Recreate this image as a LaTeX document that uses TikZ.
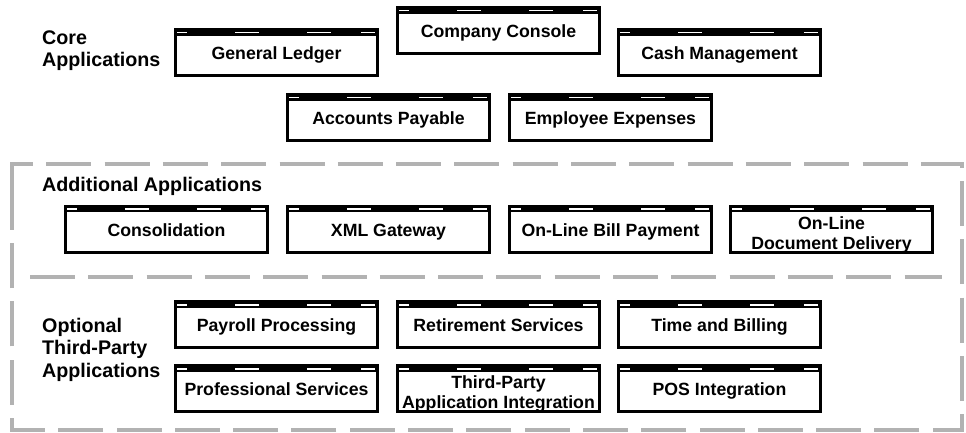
\documentclass[tikz,border=0pt]{standalone}
\usepackage{fontspec}
\setmainfont{Liberation Sans}
\definecolor{framegray}{RGB}{178,178,178}
\tikzset{
  appbox/.style={draw=black, line width=2.7pt, minimum width=202.3pt, minimum height=46.3pt,
    inner sep=0pt, outer sep=0pt, fill=white,
    path picture={
      \fill[black] (path picture bounding box.north west) rectangle ([yshift=-6.6pt]path picture bounding box.north east);
      \foreach \a/\b in {1.65/11.65, 59.65/83.65, 131.65/155.65, 185.65/199.65}
        \draw[white, line width=1.9pt] ([xshift=\a pt, yshift=-3.2pt]path picture bounding box.north west) -- ([xshift=\b pt, yshift=-3.2pt]path picture bounding box.north west);
    }},
  apptext/.style={font=\fontsize{17.7}{20}\selectfont\bfseries, align=center, anchor=base, inner sep=0pt},
  seclabel/.style={font=\fontsize{19.7}{22.5}\selectfont\bfseries, align=left, anchor=base west, inner sep=0pt},
  frameline/.style={draw=framegray, line width=4pt, dash pattern=on 45pt off 13.3pt}
}
\newcommand{\appone}[4]{% name, cx, cy, text
  \node[appbox] (#1) at (#2,#3) {};
  \node[apptext] (#1-t) at ([yshift=-30.45pt]#1.north) {#4};
}
\newcommand{\apptwo}[4]{% name, cx, cy, two-line text (base = last line)
  \node[appbox] (#1) at (#2,#3) {};
  \node[apptext] (#1-t) at ([yshift=-43.15pt]#1.north) {#4};
}
\begin{document}
\begin{tikzpicture}[x=1pt,y=-1pt]
\useasboundingbox (0,0) rectangle (966,433);
\fill[white] (0,0) rectangle (966,433);

% dashed frames
\draw[frameline] (12,188) -- (12,164) -- (962,164) -- (962,430) -- (12,430) -- cycle;
\draw[frameline] (30,277) -- (942,277);

% section labels (anchor base = last line)
\node[seclabel] (core) at (42,67) {Core\\Applications};
\node[seclabel] (addl) at (42,191.5) {Additional Applications};
\node[seclabel] (opt) at (42,377) {Optional\\Third-Party\\Applications};

% core applications
\appone{gl}{276.5}{52.5}{General Ledger}
\appone{cc}{498.5}{30.5}{Company Console}
\appone{cm}{719.5}{52.5}{Cash Management}
\appone{ap}{388.5}{117.5}{Accounts Payable}
\appone{ee}{610.5}{117.5}{Employee Expenses}

% additional applications
\appone{cons}{166.5}{229}{Consolidation}
\appone{xml}{388.5}{229}{XML Gateway}
\appone{olbp}{610.5}{229}{On-Line Bill Payment}
\apptwo{oldd}{831.5}{229}{On-Line\\Document Delivery}

% optional third-party applications
\appone{pp}{276.5}{324.5}{Payroll Processing}
\appone{rs}{498.5}{324.5}{Retirement Services}
\appone{tb}{719.5}{324.5}{Time and Billing}
\appone{ps}{276.5}{388.5}{Professional Services}
\apptwo{tpai}{498.5}{388.5}{Third-Party\\Application Integration}
\appone{pos}{719.5}{388.5}{POS Integration}
\end{tikzpicture}
\end{document}
